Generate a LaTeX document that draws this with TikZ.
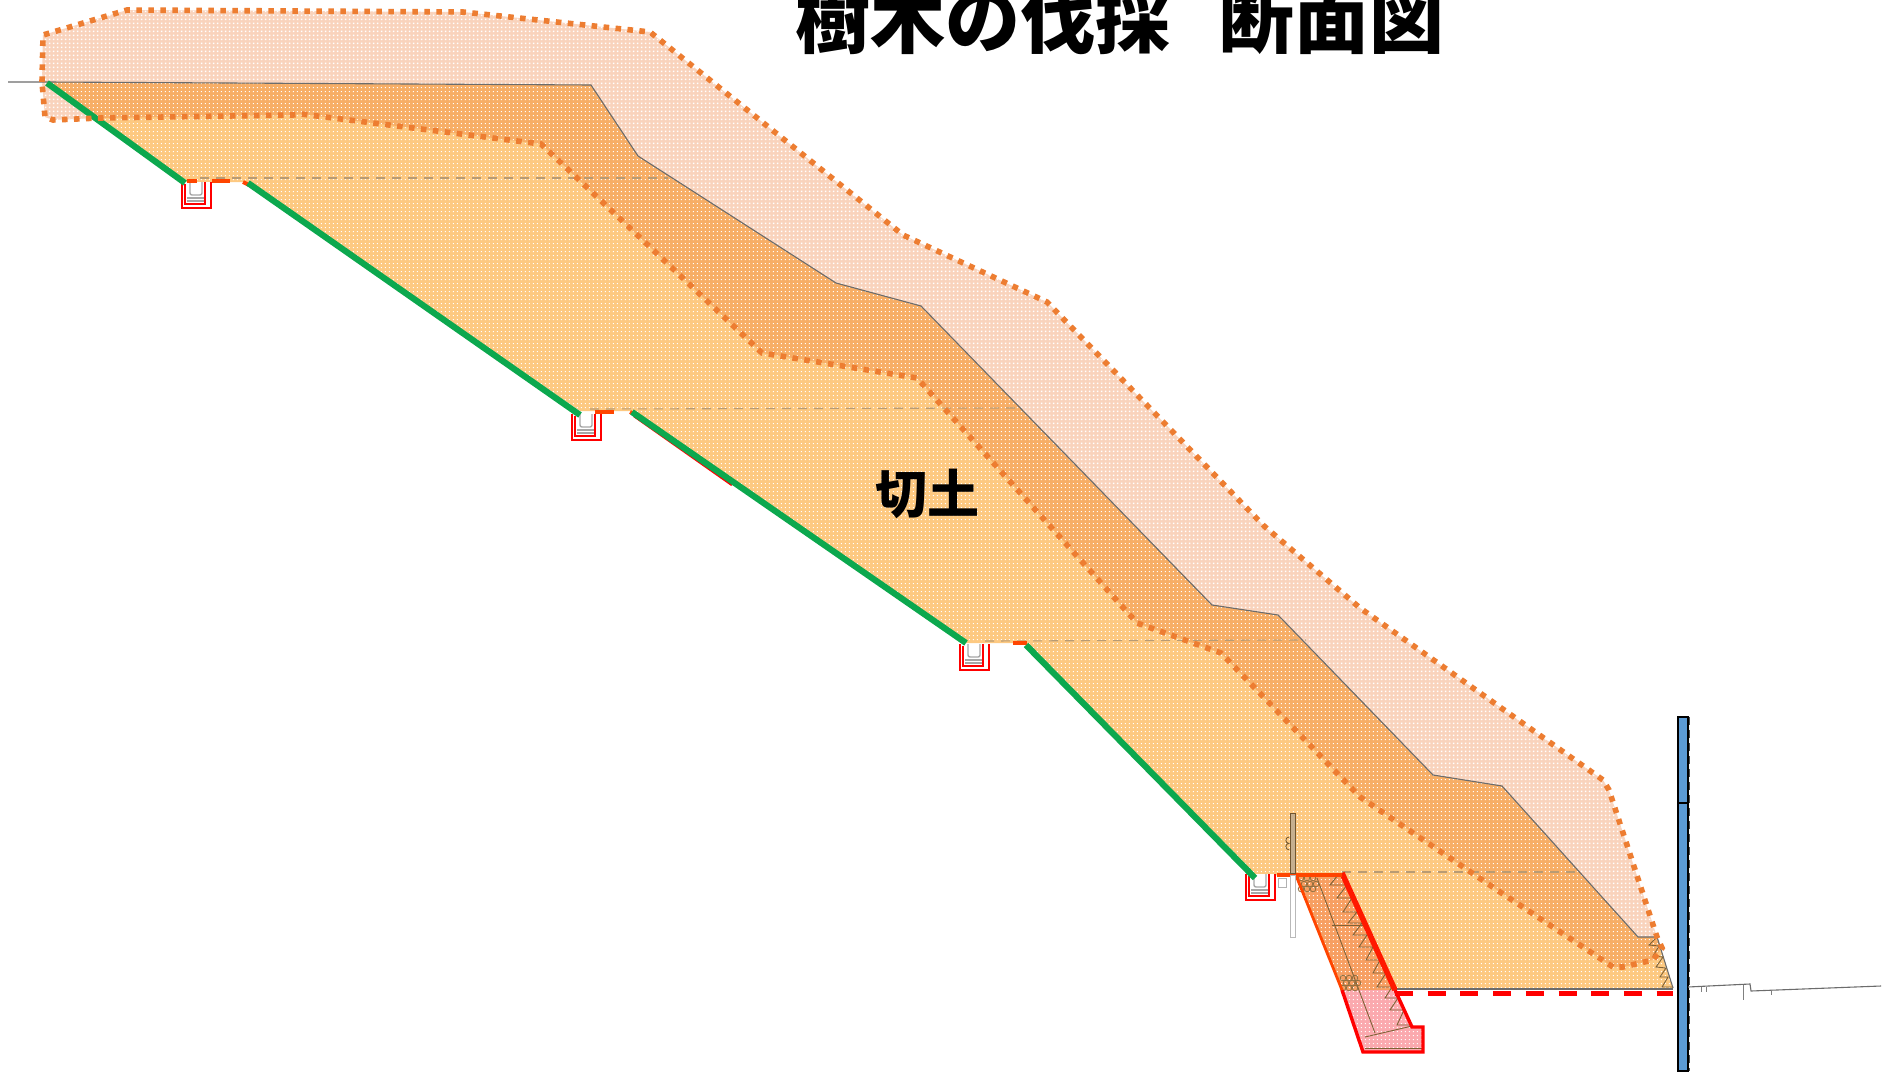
\documentclass[tikz,border=0pt]{standalone}
\usepackage{fontspec}
\newfontfamily\cjk{Noto Sans CJK JP}
\usetikzlibrary{calc,patterns}
\pgfdeclarepatternformonly{finedots}{\pgfpointorigin}{\pgfqpoint{4pt}{4pt}}{\pgfqpoint{4pt}{4pt}}{%
  \pgfpathrectangle{\pgfqpoint{1pt}{1pt}}{\pgfqpoint{1.4pt}{1.4pt}}\pgfusepath{fill}}
\pgfdeclarepatternformonly{largedots}{\pgfpointorigin}{\pgfqpoint{4pt}{4pt}}{\pgfqpoint{4pt}{4pt}}{%
  \pgfpathrectangle{\pgfqpoint{1pt}{1pt}}{\pgfqpoint{2pt}{2pt}}\pgfusepath{fill}}
\definecolor{cutfill}{HTML}{FDC981}
\definecolor{treefill}{HTML}{F9D3BC}
\definecolor{overlap}{HTML}{F7AE66}
\definecolor{dotor}{HTML}{ED7D31}
\definecolor{slopegreen}{HTML}{0CA84E}
\definecolor{wallor}{HTML}{F79F62}
\definecolor{wallpink}{HTML}{FBA9AE}
\definecolor{redor}{HTML}{FF4500}
\definecolor{postblue}{HTML}{5B9BD5}
\definecolor{brownln}{HTML}{A07A45}
\tikzset{
  treeline/.style={dotor,line width=5.6pt,dash pattern=on 5.6pt off 6.4pt},
  surface/.style={draw=gray!85!black,line width=1.1pt},
  benchdash/.style={draw=brownln!75,line width=1.1pt,dash pattern=on 9pt off 7pt},
  greenline/.style={slopegreen,line width=6.2pt},
  redbench/.style={redor,line width=4pt},
  thin ink/.style={draw=brownln!80!black,line width=.9pt},
  fine/.style={pattern=finedots,pattern color=white},
  large/.style={pattern=largedots,pattern color=white},
}
\def\treepoly{(42,82) -- (43,35) -- (127,10) -- (463,12) -- (650,32) -- (903,235) -- (1047,302) -- (1264,526) -- (1360,608) -- (1603,780) -- (1609,790) -- (1657,937) -- (1662,948) -- (1653,960) -- (1623,967) -- (1613,967) -- (1500,892) -- (1360,797) -- (1221,653) -- (1137,623) -- (917,378) -- (762,353) -- (541,144) -- (301,114) -- (293,115) -- (100,118) -- (53,120) -- (45,117) -- cycle}
\def\cutpoly{(47,82) -- (591,85) -- (638,156) -- (836,283) -- (921,306) -- (1212,605) -- (1278,615) -- (1433,775) -- (1502,786) -- (1638,937) -- (1657,937) -- (1673,988) -- (1395,989) -- (1342,873) -- (1295,873) -- (1255,878) -- (1023,643) -- (966,643) -- (632,411) -- (580,411) -- (248,182) -- (185,182) -- cycle}
\newcommand{\ditch}[2]{%
  \begin{scope}[shift={(#1,#2)}]
    \fill[white] (0,0) rectangle (30,27);
    \draw[gray!70,line width=1.4pt,fill=white,rounded corners=2pt] (9,0) -- (9,13) -- (21,13) -- (21,0);
    \draw[gray!70,line width=1.8pt] (6,16) -- (24,16) (6,19) -- (24,19);
    \draw[red,line width=2.6pt] (1,0) -- (1,26) -- (30,26) -- (30,0) (24,0) -- (24,22) -- (4,22) -- (4,2);
  \end{scope}}
\begin{document}
\begin{tikzpicture}[x=1pt,y=-1pt]
\path[use as bounding box] (0,0) rectangle (1887,1073);
\clip (0,0) rectangle (1887,1073);
\fill[white] (0,0) rectangle (1887,1073);
% fills
\fill[treefill] \treepoly;
\fill[large] \treepoly;
\fill[cutfill] \cutpoly;
\fill[fine] \cutpoly;
\begin{scope}
  \clip \cutpoly;
  \fill[overlap] \treepoly;
  \fill[fine] \treepoly;
\end{scope}
% retaining wall
\fill[wallor] (1295,873) -- (1342,873) -- (1395,990) -- (1342,990) -- cycle;
\fill[fine] (1295,873) -- (1342,873) -- (1395,990) -- (1342,990) -- cycle;
\fill[wallpink] (1342,990) -- (1395,990) -- (1412,1027) -- (1423,1027) -- (1423,1052) -- (1363,1052) -- cycle;
\fill[fine] (1342,990) -- (1395,990) -- (1412,1027) -- (1423,1027) -- (1423,1052) -- (1363,1052) -- cycle;
% surface
\draw[surface] (8,82) -- (47,82) -- (591,85) -- (638,156) -- (836,283) -- (921,306) -- (1212,605) -- (1278,615) -- (1433,775) -- (1502,786) -- (1638,937) -- (1657,937) -- (1673,988);
\draw[surface] (1395,989) -- (1673,989);
% bench level lines
\draw[benchdash] (200,178) -- (668,178);
\draw[benchdash] (590,409) -- (1017,408);
\draw[benchdash] (985,641) -- (1306,640);
\draw[benchdash] (1342,872) -- (1576,872);
% wall internals
\draw[thin ink] (1317,878) -- (1375,1033);
\draw[thin ink] (1365,1037) -- (1412,1026);
\draw[thin ink] (1365,1048) -- (1422,1048);
\draw[thin ink] (1332,925) -- (1363,925);
\draw[thin ink] (1338,875) -- (1330,885) -- (1347,885) -- (1337,898) -- (1352,898) -- (1343,912) -- (1357,912) -- (1348,923) -- (1362,923) -- (1353,935) -- (1367,935) -- (1359,947) -- (1373,947) -- (1366,960) -- (1380,960) -- (1373,973) -- (1386,973) -- (1377,987) -- (1392,987) -- (1385,998) -- (1398,998) -- (1390,1010) -- (1404,1010) -- (1397,1025) -- (1410,1025);
\foreach \x/\y in {1301/878,1307/878,1313/878,1304/884,1310/884,1316/884,1301/889,1307/889,1313/889,
                   1343/978,1349/978,1355/978,1346/983,1352/983,1358/983,1343/988,1349/988,1355/988}
  \draw[draw=brownln!90!black,line width=.8pt] (\x,\y) circle (2.8pt);
% toe zigzag
\draw[thin ink] (1657,937) -- (1649,945) -- (1659,946) -- (1653,956) -- (1663,957) -- (1656,967) -- (1666,968) -- (1660,977) -- (1668,977) -- (1662,987) -- (1673,987);
% ditches
\ditch{181}{182}
\ditch{571}{414}
\ditch{959}{644}
\ditch{1245}{874}
% red outlines
\draw[red,line width=3.4pt] (1342,990) -- (1363,1052) -- (1423,1052) -- (1423,1027) -- (1412,1027) -- (1395,990);
\draw[redor,line width=2.8pt] (1295,873) -- (1342,990);
\draw[red!80!orange,line width=5.5pt] (1342,873) -- (1395,990);
\draw[redor,line width=4pt] (1277,875) -- (1342,875);
\draw[red,line width=5pt,dash pattern=on 18pt off 14.7pt] (1395,993) -- (1673,993);
\draw[redbench] (187,181) -- (197,181);
\draw[redbench] (212,181) -- (230,181);
\draw[redbench] (243,182) -- (249,185);
\draw[redbench] (595,412) -- (614,412);
\draw[redbench] (630,412) -- (634,414);
\draw[redbench] (1013,643) -- (1027,643);
\draw[red,line width=2.5pt] (634,416) -- (732,485);
% fence
\draw[gray!55,line width=1pt,fill=white] (1290,875) rectangle (1295,937);
\draw[gray!60,line width=.9pt,fill=white] (1278,878) rectangle (1286,887);
\fill[brownln!60] (1290,813) rectangle (1295,873);
\draw[brownln!70!black,line width=.8pt] (1290,813) rectangle (1295,873);
\draw[brownln!70!black,line width=.8pt] (1289,837) arc (90:270:3.2pt) arc (90:270:3.2pt);
% green slopes
\draw[greenline] (47,83) -- (185,183);
\draw[greenline] (248,183) -- (580,415);
\draw[greenline] (632,412) -- (966,643);
\draw[greenline] (1026,645) -- (1255,878);
% tree limits
\draw[treeline] \treepoly;
% electricity post
\draw[black,line width=2.2pt,fill=postblue] (1678,803) rectangle (1688,1071);
\draw[black,line width=2.6pt,fill=postblue] (1678,717) rectangle (1688,803);
\draw[gray!60!black,line width=1pt,dash pattern=on 8pt off 5pt] (1689.5,717) -- (1689.5,1071);
% ground right
\draw[surface] (1688,987) -- (1750,984) -- (1751,991) -- (1881,986);
\draw[gray,line width=.9pt] (1701,987) -- (1701,992) (1706,987) -- (1706,992) (1743,985) -- (1743,1000) (1771,990) -- (1771,995);
% texts
\node[anchor=base,inner sep=0pt,font=\cjk\bfseries\fontsize{75}{75}\selectfont] (title) at (1120,48) {樹木の伐採\hspace{50pt}断面図};
\node[inner sep=0pt,font=\cjk\bfseries\fontsize{52}{52}\selectfont] (cut) at (927,494) {切土};
\end{tikzpicture}
\end{document}
